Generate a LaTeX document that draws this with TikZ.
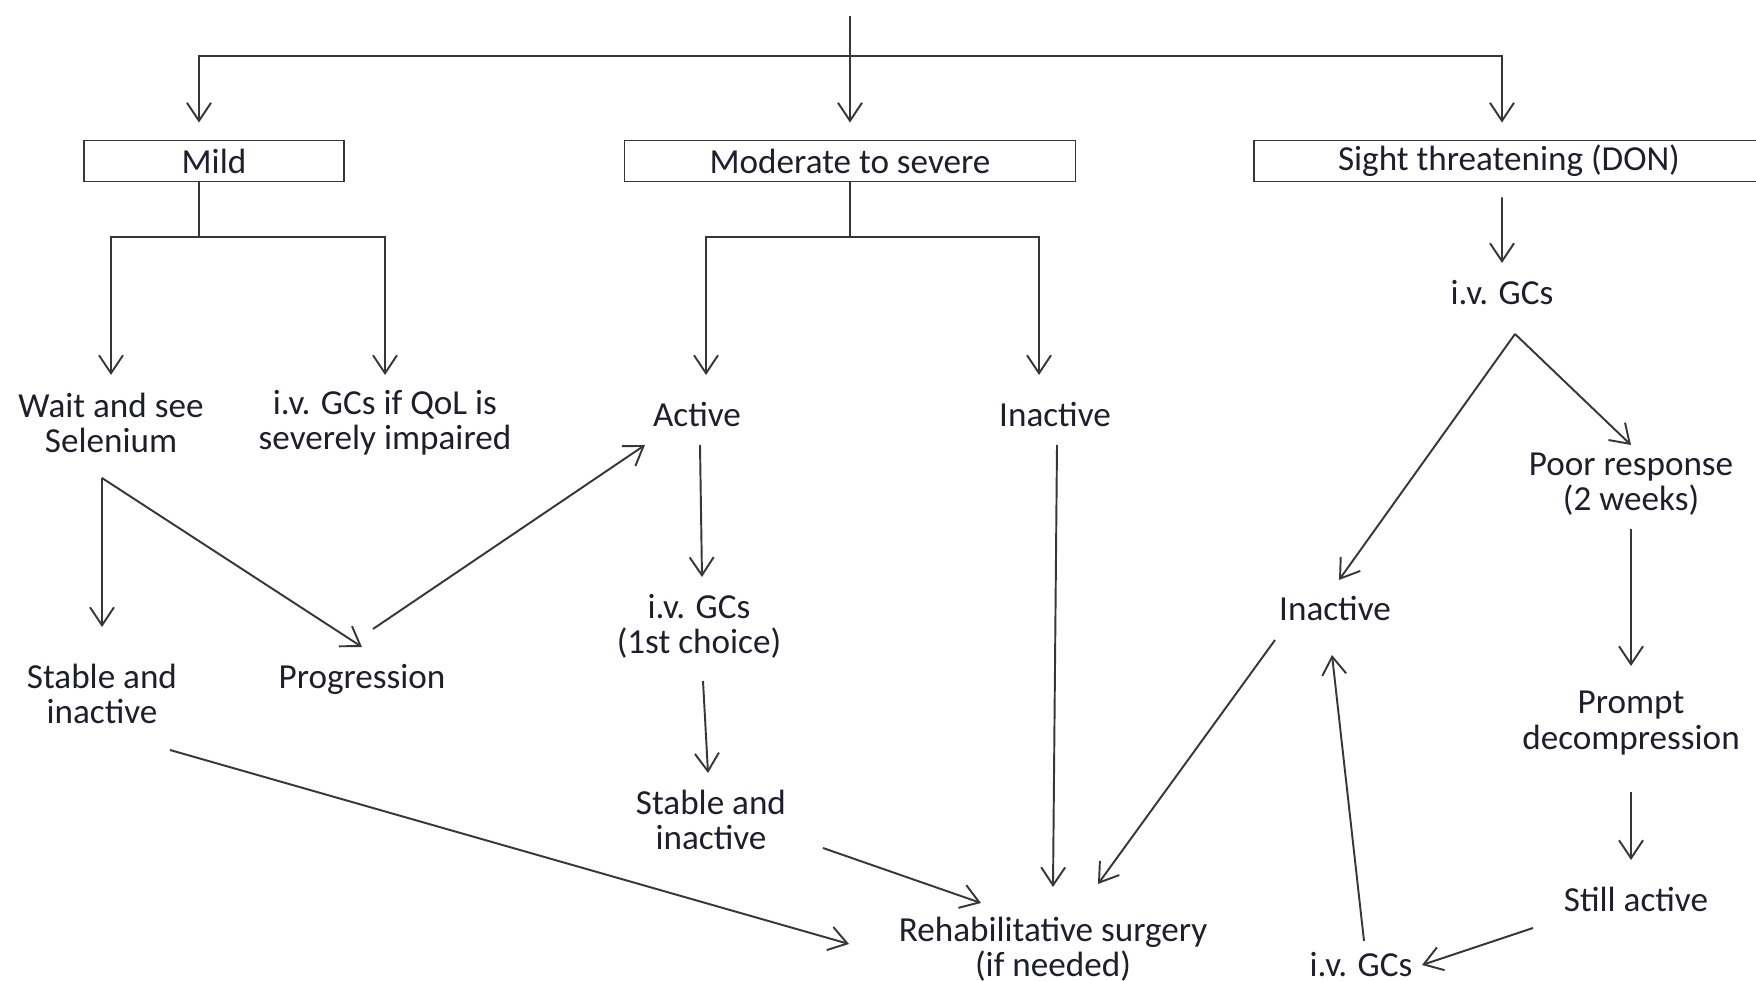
\documentclass[tikz,border=0pt]{standalone}
\usepackage{fontspec}
\setmainfont{Carlito}
\usepackage{tikz}
\usetikzlibrary{arrows.meta}
\definecolor{linecol}{RGB}{55,55,55}
\definecolor{textcol}{RGB}{30,30,45}
\tikzstyle{grade} = [rectangle, draw=linecol, line width=0.55pt, minimum height=4.1mm, inner sep=0pt]
\tikzstyle{stage} = [align=center, inner sep=0pt]
\tikzstyle{arrow} = [draw=linecol, line width=0.55pt, -{Straight Barb[length=1.8mm,width=2.4mm]}]
\tikzstyle{link} = [draw=linecol, line width=0.55pt]

\begin{document}
\begin{tikzpicture}[x=0.1mm, y=-0.1mm, text=textcol, font=\fontsize{10}{10}\selectfont]
\useasboundingbox (0,0) rectangle (1756,981);

% severity grades
\node (mild) [grade, minimum width=26mm] at (214,161) {Mild};
\node (moderate) [grade, minimum width=45.1mm] at (850,161) {Moderate to severe};
\node (sight) [grade, minimum width=51mm] at (1509,161) {Sight threatening (DON)};

% mild branch
\node (wait) [stage] at (111,423) {Wait and see\\Selenium};
\node (ivqol) [stage] at (385,423) {i.v. GCs if QoL is\\severely impaired};
\node (stablel) [stage] at (102,694) {Stable and\\inactive};
\node (progression) [stage] at (362,679) {Progression};

% moderate to severe branch
\node (active) [stage] at (697,414) {Active};
\node (inactm) [stage] at (1055,414) {Inactive};
\node (ivfirst) [stage] at (699,626) {i.v. GCs\\(1st choice)};
\node (stablem) [stage] at (711,820) {Stable and\\inactive};
\node (rehab) [stage] at (1053,949) {Rehabilitative surgery\\(if needed)};

% sight threatening branch
\node (ivtop) [stage] at (1502,293) {i.v. GCs};
\node (poor) [stage] at (1631,484) {Poor response\\(2 weeks)};
\node (inactr) [stage] at (1335,608) {Inactive};
\node (prompt) [stage] at (1631,723) {Prompt\\decompression};
\node (still) [stage] at (1636,899) {Still active};
\node (ivbot) [stage] at (1361,965) {i.v. GCs};

% top split
\coordinate (top) at (850,16);
\coordinate (bar) at (850,56);
\draw[arrow] (top) -- ([yshift=1.7mm]moderate.north);
\draw[arrow] (bar) -| ([xshift=-1.5mm,yshift=1.7mm]mild.north);
\draw[arrow] (bar) -| ([xshift=-0.7mm,yshift=1.7mm]sight.north);

% forks under the boxes
\coordinate (mildfork) at ([xshift=-1.5mm,yshift=-5.5mm]mild.south);
\draw[link] ([xshift=-1.5mm]mild.south) -- (mildfork);
\draw[arrow] (mildfork) -| ([yshift=4.8mm]wait.center);
\draw[arrow] (mildfork) -| ([yshift=4.8mm]ivqol.center);
\coordinate (modfork) at ([yshift=-5.5mm]moderate.south);
\draw[link] (moderate.south) -- (modfork);
\draw[arrow] (modfork) -| ([xshift=0.9mm,yshift=3.9mm]active.center);
\draw[arrow] (modfork) -| ([xshift=-1.6mm,yshift=3.9mm]inactm.center);
\draw[arrow] ([xshift=-0.7mm,yshift=-1.5mm]sight.south) -- ([yshift=3.0mm]ivtop.center);

% mild
\coordinate (waitsplit) at ([xshift=-0.9mm,yshift=-5.5mm]wait.center);
\draw[arrow] (waitsplit) -- ([yshift=6.7mm]stablel.center);
\draw[arrow] (waitsplit) -- ([yshift=3.2mm]progression.center);
\draw[arrow] ([xshift=1.1mm,yshift=5mm]progression.center) -- ([xshift=-5.2mm,yshift=-3.1mm]active.center);
\draw[arrow] ([xshift=6.8mm,yshift=-5.6mm]stablel.center) -- ([xshift=-20.4mm,yshift=0.5mm]rehab.center);

% moderate to severe
\draw[arrow] ([xshift=0.3mm,yshift=-3.1mm]active.center) -- ([xshift=0.3mm,yshift=4.9mm]ivfirst.center);
\draw[arrow] ([xshift=0.4mm,yshift=-5.5mm]ivfirst.center) -- ([xshift=-0.3mm,yshift=4.7mm]stablem.center);
\draw[arrow] ([xshift=0.2mm,yshift=-3.1mm]inactm.center) -- ([yshift=6.2mm]rehab.center);
\draw[arrow] ([xshift=11.2mm,yshift=-2.8mm]stablem.center) -- ([xshift=-7.2mm,yshift=4.6mm]rehab.center);

% sight threatening
\coordinate (ivsplit) at ([xshift=1.3mm,yshift=-4.1mm]ivtop.center);
\draw[arrow] (ivsplit) -- ([xshift=0.4mm,yshift=2.8mm]inactr.center);
\draw[arrow] (ivsplit) -- ([yshift=3.9mm]poor.center);
\draw[arrow] ([xshift=-6mm,yshift=-3.2mm]inactr.center) -- ([xshift=4.5mm,yshift=6.5mm]rehab.center);
\draw[arrow] ([yshift=-4.5mm]poor.center) -- ([yshift=5.7mm]prompt.center);
\draw[arrow] ([yshift=-6.9mm]prompt.center) -- ([xshift=-0.5mm,yshift=3.9mm]still.center);
\draw[arrow] ([xshift=-10.3mm,yshift=-2.9mm]still.center) -- ([xshift=6.1mm]ivbot.center);
\draw[arrow] ([xshift=0.3mm,yshift=2.4mm]ivbot.center) -- ([xshift=-0.3mm,yshift=-4.7mm]inactr.center);
\end{tikzpicture}
\end{document}
